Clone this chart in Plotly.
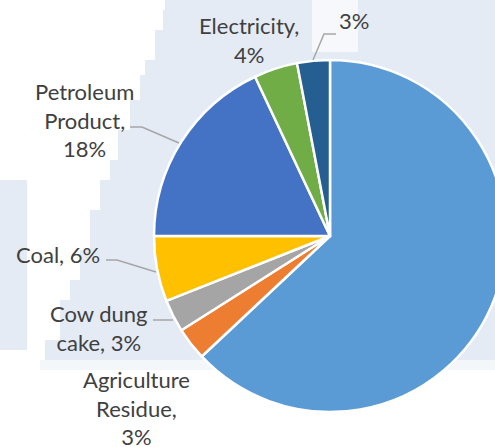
import plotly.graph_objects as go

# ---- data ----
categories = ["Firewood", "Agriculture Residue", "Cow dung cake", "Coal",
              "Petroleum Product", "Electricity", "Other"]
shares = [63, 3, 3, 6, 18, 4, 3]
colors = ["#5B9BD5", "#ED7D31", "#A5A5A5", "#FFC000", "#4472C4", "#70AD47", "#255E91"]

W, H = 520, 447  # figure slightly wider than the window, so the pie is clipped at the right


def px(x):
    return x / W


def py(y):
    return 1 - y / H


fig = go.Figure()
fig.add_trace(go.Pie(
    labels=categories,
    values=shares,
    sort=False,
    direction="clockwise",
    rotation=0,
    marker=dict(colors=colors, line=dict(color="white", width=2.5)),
    textinfo="none",
    hoverinfo="label+percent",
    showlegend=False,
    domain=dict(x=[px(154), px(506)], y=[py(412), py(60)]),
))

total = sum(shares)


def pct(name):
    return f"{round(100 * shares[categories.index(name)] / total)}%"


# label texts built from data
label_specs = [
    ("Electricity", f"Electricity,<br>{pct('Electricity')}", 249, 40),
    ("Other", f"{pct('Other')}", 354, 20),
    ("Petroleum Product", f"Petroleum<br>Product,<br>{pct('Petroleum Product')}", 84, 120),
    ("Coal", f"Coal, {pct('Coal')}", 58, 254),
    ("Cow dung cake", f"Cow dung<br>cake, {pct('Cow dung cake')}", 99, 328),
    ("Agriculture Residue", f"Agriculture<br>Residue,<br>{pct('Agriculture Residue')}", 136, 408),
]

annotations = []
for _, txt, x, y in label_specs:
    annotations.append(dict(
        x=px(x), y=py(y), xref="paper", yref="paper", text=txt, showarrow=False,
        xanchor="center", yanchor="middle", align="center",
        font=dict(family="Lato, 'Open Sans', sans-serif", size=22, color="#404040"),
    ))

# leader lines (layout geometry)
leaders = [
    [(313, 60), (324, 34), (336, 34)],
    [(130, 127), (142, 127), (179, 143)],
    [(106, 260), (117, 260), (156, 272)],
    [(153, 320), (173, 320)],
]

shapes = []

# decorative pixelated background map (light blue region)
bg_steps = [(0, 165), (10, 163), (30, 155), (60, 145), (75, 140), (100, 130), (130, 118),
            (160, 110), (180, 100), (210, 90), (250, 80), (280, 70), (300, 60), (340, 45), (360, None)]
pts = [(45, 360)]
rev = bg_steps[:-1][::-1]
ends = [s[0] for s in bg_steps[1:]][::-1]
for (ystart, xb), yend in zip(rev, ends):
    pts.append((xb, yend))
    pts.append((xb, ystart))
path = "M " + f"{px(165):.5f},{py(0):.5f} L {px(W):.5f},{py(0):.5f} L {px(W):.5f},{py(360):.5f} L " + \
       " L ".join(f"{px(x):.5f},{py(y):.5f}" for x, y in pts) + " Z"
shapes.append(dict(type="path", path=path, xref="paper", yref="paper",
                   fillcolor="#E4EBF4", line=dict(width=0), layer="below"))
shapes.append(dict(type="rect", xref="paper", yref="paper", x0=0, x1=px(27), y0=py(350), y1=py(180),
                   fillcolor="#E4EBF4", line=dict(width=0), layer="below"))
shapes.append(dict(type="rect", xref="paper", yref="paper", x0=px(312), x1=px(358), y0=py(52), y1=py(0),
                   fillcolor="#F6F8FB", line=dict(width=0), layer="below"))
shapes.append(dict(type="rect", xref="paper", yref="paper", x0=px(40), x1=px(W), y0=py(370), y1=py(360),
                   fillcolor="#F4F7FA", line=dict(width=0), layer="below"))

for seg in leaders:
    p = "M " + " L ".join(f"{px(x):.5f},{py(y):.5f}" for x, y in seg)
    shapes.append(dict(type="path", path=p, xref="paper", yref="paper",
                       line=dict(color="#A6A6A6", width=1.5)))

fig.update_layout(
    width=W, height=H,
    margin=dict(l=0, r=0, t=0, b=0),
    paper_bgcolor="white", plot_bgcolor="white",
    annotations=annotations, shapes=shapes,
)

fig.write_html("out.html", config={"displayModeBar": False},
               post_script="document.documentElement.style.overflow='hidden';document.body.style.overflow='hidden';document.body.style.margin='0';")
